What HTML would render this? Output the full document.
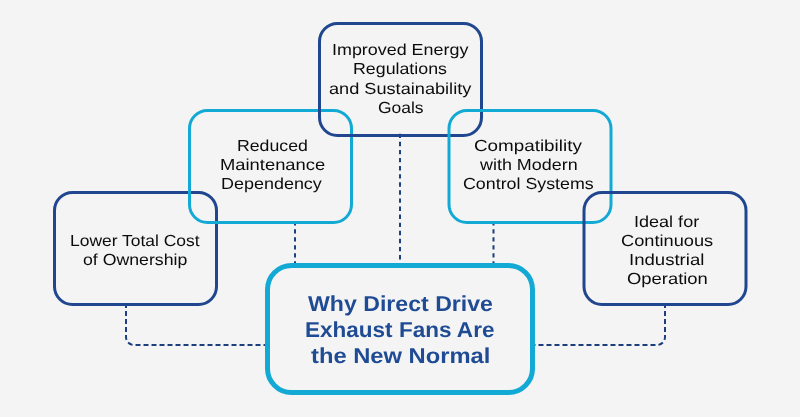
<!DOCTYPE html>
<html><head><meta charset="utf-8"><style>
html,body{margin:0;padding:0;}
body{width:800px;height:417px;overflow:hidden;background:#f4f4f4;position:relative;font-family:"Liberation Sans",sans-serif;}
svg{position:absolute;left:0;top:0;}

.t,.h{position:absolute;white-space:nowrap;transform-origin:0 0;text-rendering:geometricPrecision;line-height:1;will-change:transform;}
.t{font-size:16.0px;color:#0c0c0c;}
.h{font-size:21.6px;font-weight:700;color:#1f4b94;}

</style></head><body>
<svg width="800" height="417" viewBox="0 0 800 417">
<g fill="none" stroke="#1c3f80" stroke-width="2">
<path d="M400 133.7V263" stroke-dasharray="4.4 3.69"/>
<path d="M295 221.2V263" stroke-dasharray="4.4 3.6"/>
<path d="M493.5 221.2V263" stroke-dasharray="4.4 3.6"/>
<path d="M126 303V337A8 8 0 0 0 134 345H267" stroke-dasharray="5 3"/>
<path d="M665 303V337A8 8 0 0 1 657 345H533" stroke-dasharray="5 3"/>
</g>
<g fill="none" stroke-width="3">
<rect x="54.5" y="192.5" width="162" height="112" rx="18" stroke="#1f468e"/>
<rect x="189.5" y="110.5" width="162" height="112" rx="18" stroke="#13a9d5"/>
<rect x="319.5" y="23.5" width="162" height="112" rx="18" stroke="#1f468e"/>
<rect x="449" y="110.5" width="162" height="112" rx="18" stroke="#13a9d5"/>
<rect x="584" y="192.5" width="162" height="112" rx="18" stroke="#1f468e"/>
</g>
<rect x="267.5" y="265.5" width="265" height="127" rx="24" fill="none" stroke="#13a9d5" stroke-width="5"/>
</svg>
<div class="t" style="left:331.87px;top:43.35px;transform:scaleX(1.119)">Improved Energy</div>
<div class="t" style="left:353.0px;top:62.45px;transform:scaleX(1.1117)">Regulations</div>
<div class="t" style="left:328.84px;top:81.55px;transform:scaleX(1.1346)">and Sustainability</div>
<div class="t" style="left:377.52px;top:100.65px;transform:scaleX(1.0904)">Goals</div>
<div class="t" style="left:236.91px;top:138.9px;transform:scaleX(1.1055)">Reduced</div>
<div class="t" style="left:219.57px;top:158.15px;transform:scaleX(1.1484)">Maintenance</div>
<div class="t" style="left:221.49px;top:177.4px;transform:scaleX(1.1222)">Dependency</div>
<div class="t" style="left:474.25px;top:139.0px;transform:scaleX(1.177)">Compatibility</div>
<div class="t" style="left:479.94px;top:158.2px;transform:scaleX(1.1199)">with Modern</div>
<div class="t" style="left:463.1px;top:177.4px;transform:scaleX(1.1134)">Control Systems</div>
<div class="t" style="left:69.92px;top:233.8px;transform:scaleX(1.0897)">Lower Total Cost</div>
<div class="t" style="left:83.21px;top:253.0px;transform:scaleX(1.106)">of Ownership</div>
<div class="t" style="left:634.15px;top:214.8px;transform:scaleX(1.1273)">Ideal for</div>
<div class="t" style="left:620.98px;top:233.97px;transform:scaleX(1.1379)">Continuous</div>
<div class="t" style="left:629.1px;top:253.1px;transform:scaleX(1.1613)">Industrial</div>
<div class="t" style="left:627.09px;top:272.3px;transform:scaleX(1.15)">Operation</div>
<div class="h" style="left:307.8px;top:292.7px;transform:scaleX(1.0702)">Why Direct Drive</div>
<div class="h" style="left:304.9px;top:318.9px;transform:scaleX(1.0431)">Exhaust Fans Are</div>
<div class="h" style="left:310.63px;top:345.1px;transform:scaleX(1.0992)">the New Normal</div>
</body></html>
